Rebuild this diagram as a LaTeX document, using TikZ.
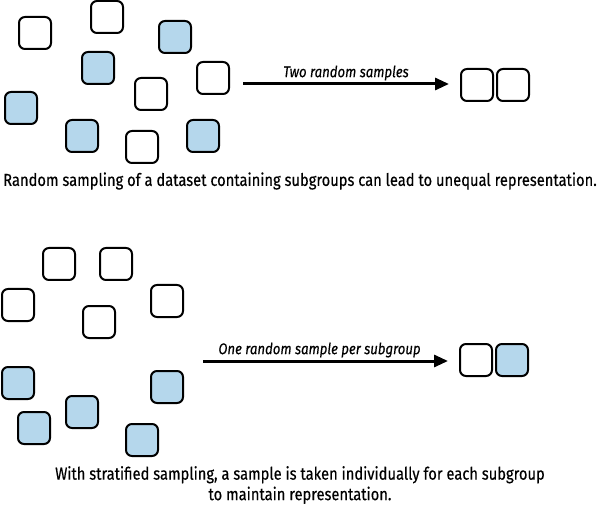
\documentclass[tikz,border=0pt]{standalone}
\usepackage{fontspec}
\setmainfont{Fira Sans}[FakeStretch=0.85,FakeBold=0.4]
\usepackage{tikz}
\usetikzlibrary{
  positioning,
  arrows.meta
}
\definecolor{groupblue}{RGB}{181,215,236}

\begin{document}
\begin{tikzpicture}[x=1pt,y=-1pt,>={Triangle[length=14pt,width=12pt]},
    item/.style={draw,line width=2pt,rounded corners=6pt,minimum size=32pt,inner sep=0pt,outer sep=0pt},
    blue/.style={item,fill=groupblue},
    arr/.style={->,line width=3pt,shorten >=12pt},
    lbl/.style={font=\itshape\fontsize{15.5}{18}\selectfont,inner sep=2pt},
    caption/.style={font=\fontsize{17.3}{20.5}\selectfont,align=center}]
            \useasboundingbox (0,0) rectangle (600,505);

            % random sampling
            \node[item] (w1) at (35,33) {};
            \node[item] (w2) at (107,17) {};
            \node[item] (w3) at (213,78) {};
            \node[item] (w4) at (151,94) {};
            \node[item] (w5) at (142,147) {};
            \node[blue] (b1) at (175,37) {};
            \node[blue] (b2) at (98,68) {};
            \node[blue] (b3) at (21,108) {};
            \node[blue] (b4) at (82,136) {};
            \node[blue] (b5) at (203,136) {};

            \coordinate (s1) at (243,84);
            \node[item] (r1) at (477,85) {};
            \node[item,right=4pt of r1] (r2) {};
            \draw[arr] (s1) -- (r1.west |- s1) node[lbl,midway,above,xshift=-6pt] {Two random samples};

            \node[caption] (c1) at (300,181) {Random sampling of a dataset containing subgroups can lead to unequal representation.};

            % stratified sampling
            \node[item] (sw1) at (59,264) {};
            \node[item] (sw2) at (116,264) {};
            \node[item] (sw3) at (18,305) {};
            \node[item] (sw4) at (167,301) {};
            \node[item] (sw5) at (99,322) {};
            \node[blue] (sb1) at (18,383) {};
            \node[blue] (sb2) at (167,387) {};
            \node[blue] (sb3) at (82,412) {};
            \node[blue] (sb4) at (34,428) {};
            \node[blue] (sb5) at (142,440) {};

            \coordinate (s2) at (203,361);
            \node[item] (r3) at (476,360) {};
            \node[blue,right=4pt of r3] (r4) {};
            \draw[arr] (s2) -- (r3.west |- s2) node[lbl,midway,above,xshift=-12pt] {One random sample per subgroup};

            \node[caption] (c2) at (300,485) {With stratified sampling, a sample is taken individually for each subgroup\\to maintain representation.};
        \end{tikzpicture}
\end{document}
